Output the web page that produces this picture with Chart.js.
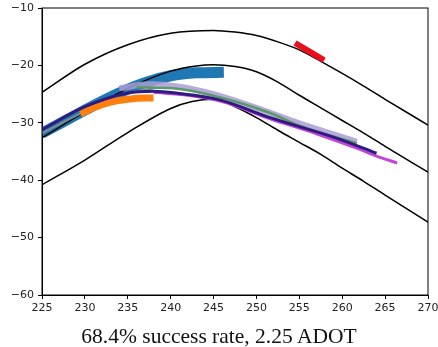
<!DOCTYPE html>
<html>
<head>
<meta charset="utf-8">
<script src="https://cdn.jsdelivr.net/npm/chart.js@4/dist/chart.umd.min.js"></script>
<style>
  html, body { margin: 0; padding: 0; background: #fff; }
  #wrap { position: relative; width: 438px; height: 347px; }
  #caption {
    position: absolute; left: 0; top: 326px; width: 438px;
    text-align: center; font-family: 'Liberation Serif', serif;
    font-size: 21.5px; line-height: 21.5px; color: #111;
  }
</style>
</head>
<body>
<div id="wrap">
  <canvas id="chart" width="438" height="347"></canvas>
  <div id="caption">68.4% success rate, 2.25 ADOT</div>
</div>
<script>
//Limites da pista (curvas pretas)
const upperX = [225, 230, 235, 240, 245, 247.5, 250, 252.5, 255, 257.5, 260, 262.5, 265, 270];
const upperY = [-24.7, -19.8, -16.4, -14.4, -13.9, -14.2, -14.8, -15.9, -17.3, -19.3, -21.4, -23.6, -25.9, -30.4];

const middleX = [225, 230, 235, 240, 243, 245, 247.5, 250, 252.5, 255, 257.5, 260, 262.5, 265, 270];
const middleY = [-32.6, -28.1, -24.0, -21.0, -20.1, -19.9, -20.2, -21.1, -22.9, -25.2, -27.4, -29.6, -31.8, -34.1, -38.6];

const lowerX = [225, 230, 235, 240, 242.5, 245, 247.5, 250, 252.5, 255, 257.5, 260, 262.5, 265, 270];
const lowerY = [-40.8, -36.5, -31.7, -27.5, -26.3, -25.9, -27.2, -29.1, -31.3, -33.4, -35.5, -37.9, -40.2, -42.6, -47.3];

//Trajetórias
const blueX = [225, 228, 231, 234, 237, 240, 243, 246.2];
const blueY = [-31.8, -29.4, -27.0, -24.8, -23.0, -21.8, -21.3, -21.2];

const orangeX = [229.5, 231, 233, 235, 237, 238];
const orangeY = [-28.5, -27.4, -26.4, -25.9, -25.7, -25.7];

const redX = [254.5, 257.9];
const redY = [-16.1, -19.1];

const purpleX = [225, 230, 235, 238, 241, 245.7, 251.6, 259.4, 264];
const purpleY = [-31.2, -27.2, -24.8, -24.5, -24.9, -26.0, -29.1, -32.7, -35.3];

const magentaX = [238, 242, 246, 251.6, 257, 262, 264, 266.4];
const magentaY = [-24.7, -25.2, -26.3, -29.3, -31.9, -34.6, -35.8, -37.0];

const lavenderX = [234, 237.5, 241, 245, 250, 255, 261.7];
const lavenderY = [-24.0, -23.3, -23.7, -25.0, -27.4, -30.1, -33.3];

const greenX = [236, 240.3, 245, 251.6, 255, 261.7];
const greenY = [-23.8, -24.0, -25.3, -28.3, -30.5, -33.6];

const grayX = [225, 230, 234, 238];
const grayY = [-31.8, -28.0, -25.2, -24.0];

const xTicks = [225, 230, 235, 240, 245, 250, 255, 260, 265, 270];
const yTicks = [-60, -50, -40, -30, -20, -10];

function pts(xs, ys) {
  return xs.map((x, i) => ({ x: x, y: ys[i] }));
}

function serie(xs, ys, color, width, order) {
  return {
    data: pts(xs, ys),
    borderColor: color,
    backgroundColor: color,
    borderWidth: width,
    showLine: true,
    pointRadius: 0,
    cubicInterpolationMode: 'monotone',
    borderCapStyle: 'butt',
    order: order
  };
}

//Moldura completa (topo e direita)
const boxPlugin = {
  id: 'box',
  afterDraw(chart) {
    const a = chart.chartArea;
    const ctx = chart.ctx;
    ctx.save();
    ctx.strokeStyle = '#000';
    ctx.lineWidth = 1;
    ctx.strokeRect(a.left, a.top, a.right - a.left, a.bottom - a.top);
    ctx.restore();
  }
};

const minus = v => String(v).replace('-', '\u2212');

new Chart(document.getElementById('chart').getContext('2d'), {
  type: 'scatter',
  data: {
    datasets: [
      serie(blueX, blueY, '#1f77b4', 11, 9),
      serie(upperX, upperY, '#000', 1.5, 8),
      serie(middleX, middleY, '#000', 1.5, 7),
      serie(lowerX, lowerY, '#000', 1.5, 6),
      serie(grayX, grayY, '#7f8c8d', 2, 5),
      serie(orangeX, orangeY, '#ff7f0e', 7, 4),
      serie(lavenderX, lavenderY, 'rgba(170,158,210,0.85)', 6, 3),
      serie(greenX, greenY, '#5a9a6a', 2.5, 2),
      serie(magentaX, magentaY, '#c046d8', 3, 1),
      serie(purpleX, purpleY, '#2e1a80', 3, 0),
      serie(redX, redY, '#e8101c', 6, -1)
    ]
  },
  options: {
    responsive: false,
    animation: false,
    devicePixelRatio: 1,
    layout: { padding: { top: 8, right: 10, left: 0, bottom: 0 } },
    plugins: {
      legend: { display: false },
      tooltip: { enabled: false }
    },
    scales: {
      x: {
        type: 'linear',
        min: 225,
        max: 270,
        afterFit(axis) { axis.height = 52; axis.paddingRight = 0; axis.paddingLeft = 0; },
        afterBuildTicks(axis) { axis.ticks = xTicks.map(v => ({ value: v })); },
        grid: { drawOnChartArea: false, drawTicks: true, tickLength: 4, color: '#000' },
        border: { display: true, color: '#000', width: 1 },
        ticks: {
          padding: 3,
          color: '#222',
          maxRotation: 0,
          font: { family: 'DejaVu Sans', size: 11 },
          callback: v => minus(v)
        }
      },
      y: {
        min: -60,
        max: -10,
        afterFit(axis) { axis.width = 42; axis.paddingTop = 0; axis.paddingBottom = 0; },
        afterBuildTicks(axis) { axis.ticks = yTicks.map(v => ({ value: v })); },
        grid: { drawOnChartArea: false, drawTicks: true, tickLength: 4, color: '#000' },
        border: { display: true, color: '#000', width: 1 },
        ticks: {
          padding: 4,
          color: '#222',
          font: { family: 'DejaVu Sans', size: 11 },
          callback: v => minus(v)
        }
      }
    }
  },
  plugins: [boxPlugin]
});
</script>
</body>
</html>
